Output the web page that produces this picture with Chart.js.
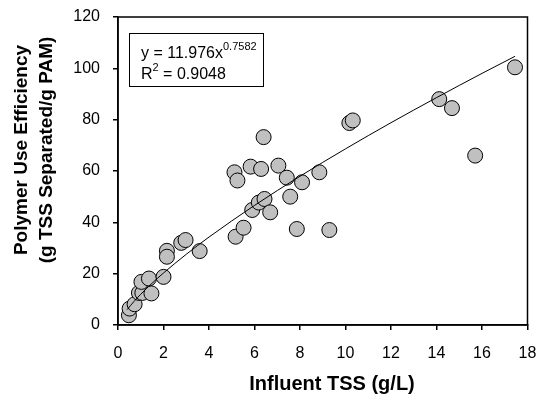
<!DOCTYPE html>
<html>
<head>
<meta charset="utf-8">
<script src="https://cdn.jsdelivr.net/npm/chart.js@4/dist/chart.umd.min.js"></script>
<style>
html,body{margin:0;padding:0;background:#fff;}
#wrap{width:536px;height:400px;position:relative;}
</style>
</head>
<body>
<div id="wrap"><canvas id="c" width="536" height="400"></canvas></div>
<script>
// Influent TSS (g/L)
const tssValues = [0.48,0.51,0.73,0.92,1.07,1.03,1.36,1.47,2.0,2.15,2.15,2.78,2.97,3.59,5.17,5.52,5.12,5.25,5.83,6.29,6.40,5.9,6.19,6.44,6.69,7.05,7.42,7.57,8.09,7.86,8.85,9.29,10.17,10.32,14.12,14.68,15.7,17.45];
// Polymer use efficiency (g TSS separated / g PAM)
const efficiencyValues = [3.8,6.4,8.1,12.5,12.5,16.8,18.1,12.3,18.75,28.9,26.6,32,33.1,28.8,34.4,37.9,59.5,56.3,61.7,60.8,73.2,44.8,47.7,49.1,43.9,62.1,57.4,50,55.6,37.4,59.5,37,78.7,79.7,88,84.5,66,100.4];
// Power-law trend line (y = 11.976x^0.7582)
const trendX = [0.4,0.7,1,1.5,2,3,4,6,8,10,12,14,16,17.45];
const trendY = [5.98,9.14,11.98,16.29,20.26,27.55,34.26,46.59,57.95,68.63,78.82,88.58,98.03,104.68];
const xTicks = [0,2,4,6,8,10,12,14,16,18];
const yTicks = [0,20,40,60,80,100,120];
const equationText = "y = 11.976x";
const exponentText = "0.7582";
const r2Text = " = 0.9048";
const xTitle = "Influent TSS (g/L)";
const yTitleLines = ["Polymer Use Efficiency", "(g TSS Separated/g PAM)"];

const FONT = "'Liberation Sans', Arial, sans-serif";

const scatterData = tssValues.map((x,i)=>({x:x,y:efficiencyValues[i]}));
const trendData = trendX.map((x,i)=>({x:x,y:trendY[i]}));

const decorPlugin = {
  id:'decor',
  afterDraw(chart){
    const ctx = chart.ctx, a = chart.chartArea;
    ctx.save();
    // frame
    ctx.strokeStyle = '#000';
    ctx.lineWidth = 1.5;
    ctx.strokeRect(a.left, a.top, a.right-a.left, a.bottom-a.top);
    // equation box
    ctx.lineWidth = 1;
    ctx.strokeRect(129.5, 33.5, 134, 53);
    ctx.fillStyle = '#000';
    ctx.textBaseline = 'alphabetic';
    ctx.textAlign = 'left';
    ctx.font = '16px ' + FONT;
    ctx.fillText(equationText, 141, 58);
    let w = ctx.measureText(equationText).width;
    ctx.font = '11px ' + FONT;
    ctx.fillText(exponentText, 141 + w, 50);
    ctx.font = '16px ' + FONT;
    ctx.fillText('R', 141, 79);
    let wr = ctx.measureText('R').width;
    ctx.font = '11px ' + FONT;
    ctx.fillText('2', 141 + wr, 71);
    let w2 = ctx.measureText('2').width;
    ctx.font = '16px ' + FONT;
    ctx.fillText(r2Text, 141 + wr + w2, 79);
    // axis titles
    ctx.font = 'bold 20px ' + FONT;
    ctx.textAlign = 'center';
    ctx.textBaseline = 'middle';
    ctx.fillText(xTitle, 332, 384);
    ctx.font = 'bold 19px ' + FONT;
    ctx.textBaseline = 'alphabetic';
    const bases = [27, 52];
    yTitleLines.forEach((t,i)=>{
      ctx.save();
      ctx.translate(bases[i], 150);
      ctx.rotate(-Math.PI/2);
      ctx.fillText(t, 0, 0);
      ctx.restore();
    });
    ctx.restore();
  }
};

new Chart(document.getElementById('c'), {
  type:'scatter',
  data:{
    datasets:[
      {
        label:'Trend',
        type:'line',
        data:trendData,
        borderColor:'#000',
        borderWidth:1,
        pointRadius:0,
        fill:false,
        cubicInterpolationMode:'monotone',
        order:1
      },
      {
        label:'Data',
        data:scatterData,
        backgroundColor:'#c0c0c0',
        borderColor:'#000',
        borderWidth:1,
        pointRadius:7.5,
        pointHoverRadius:7.5,
        order:2
      }
    ]
  },
  options:{
    responsive:false,
    animation:false,
    events:[],
    layout:{padding:{top:17,right:8,left:0,bottom:0}},
    plugins:{legend:{display:false},tooltip:{enabled:false}},
    scales:{
      x:{
        type:'linear',
        min:0,max:18,
        afterBuildTicks(s){ s.ticks = xTicks.map(v=>({value:v})); },
        afterFit(s){ s.height = 75; s.paddingLeft = 0; s.paddingRight = 0; },
        grid:{display:true,drawOnChartArea:false,drawTicks:true,tickLength:5,color:'#000',lineWidth:1.5},
        border:{display:true,color:'#000',width:1.5},
        ticks:{color:'#000',font:{family:FONT,size:16},padding:14,maxRotation:0}
      },
      y:{
        type:'linear',
        min:0,max:120,
        afterBuildTicks(s){ s.ticks = yTicks.map(v=>({value:v})); },
        afterFit(s){ s.width = 118; s.paddingTop = 0; s.paddingBottom = 0; },
        grid:{display:true,drawOnChartArea:false,drawTicks:true,tickLength:5,color:'#000',lineWidth:1.5},
        border:{display:true,color:'#000',width:1.5},
        ticks:{color:'#000',font:{family:FONT,size:16},padding:13}
      }
    }
  },
  plugins:[decorPlugin]
});
</script>
</body>
</html>
